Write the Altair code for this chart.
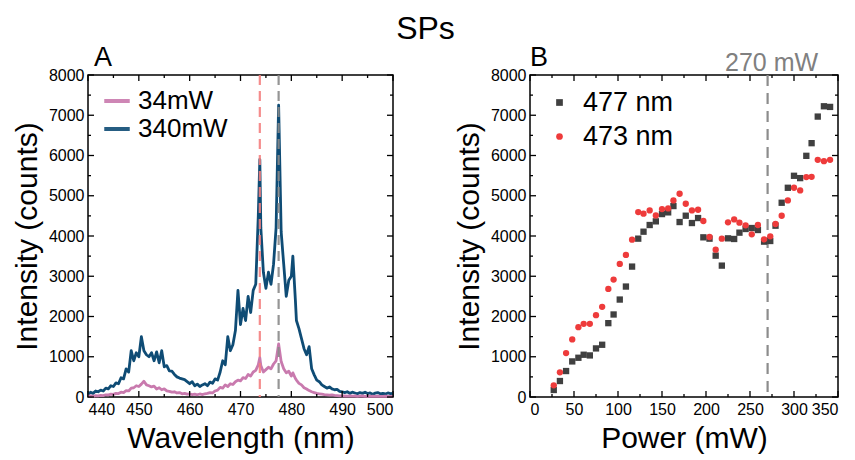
import altair as alt
import pandas as pd

FONT = "Liberation Sans"

# ---------------- Panel A: spectra ----------------
wavelength = [
    440.0, 440.5, 441.0, 441.5, 442.0, 442.5, 443.0, 443.5, 444.0, 444.5,
    445.0, 445.5, 446.0, 446.5, 447.0, 447.5, 448.0, 448.5, 449.0, 449.5,
    450.0, 450.5, 451.0, 451.5, 452.0, 452.5, 453.0, 453.5, 454.0, 454.5,
    455.0, 455.5, 456.0, 456.5, 457.0, 457.5, 458.0, 458.5, 459.0, 459.5,
    460.0, 460.5, 461.0, 461.5, 462.0, 462.5, 463.0, 463.5, 464.0, 464.5,
    465.0, 465.5, 466.0, 466.5, 467.0, 467.5, 468.0, 468.5, 469.0, 469.5,
    470.0, 470.5, 471.0, 471.5, 472.0, 472.5, 473.0, 473.5, 473.8, 474.0,
    474.5, 475.0, 475.5, 476.0, 476.5, 477.0, 477.5, 478.0, 478.5, 479.0,
    479.5, 480.0, 480.3, 480.8, 481.0, 481.5, 482.0, 482.5, 483.0, 483.5,
    484.0, 484.5, 485.0, 485.5, 486.0, 486.5, 487.0, 487.5, 488.0, 488.5,
    489.0, 489.5, 490.0, 490.5, 491.0, 491.5, 492.0, 492.5, 493.0, 493.5,
    494.0, 494.5, 495.0, 495.5, 496.0, 496.5, 497.0, 497.5, 498.0, 498.5,
    499.0, 499.5, 500.0,
]
counts_340mW = [
    60, 120, 90, 150, 130, 170, 150, 220, 200, 280,
    260, 350, 330, 480, 450, 700, 620, 1150, 900, 1100,
    1000, 1500, 1150, 1050, 1000, 1100, 900, 1120, 850, 1150,
    750, 780, 650, 640, 560, 500, 470, 450, 430, 380,
    330, 380, 280, 320, 260, 300, 330, 280, 370, 340,
    450, 420, 620, 900, 800, 1500, 1150, 1300, 1650, 2650,
    1800, 2200, 1900, 2500, 2100, 2650, 2800, 4500, 5900, 4200,
    3100, 2700, 3100, 2800, 3300, 4200, 7250, 4100, 3300, 2500,
    2900, 3000, 3500, 2400, 1900, 1700, 1450, 1200, 1050, 1250,
    700, 550, 420, 380, 300, 260, 220, 250, 200, 180,
    190, 140, 130, 110, 130, 90, 120, 100, 80, 110,
    90, 120, 85, 100, 70, 95, 110, 80, 90, 75,
    100, 85, 90,
]
counts_34mW = [
    20, 30, 15, 35, 30, 40, 35, 55, 50, 70,
    65, 90, 85, 120, 110, 160, 150, 220, 230, 280,
    260, 320, 390, 300, 280, 250, 270, 200, 230, 180,
    200, 150, 140, 120, 130, 100, 110, 80, 90, 70,
    80, 60, 70, 55, 75, 60, 80, 90, 110, 100,
    150, 170, 240, 220, 300, 260, 330, 310, 380, 420,
    400, 480, 460, 560, 520, 620, 660, 800, 980, 780,
    620, 680, 740, 700, 820, 900, 1320, 880, 700, 600,
    640, 520, 600, 460, 420, 340, 300, 230, 200, 160,
    130, 110, 90, 80, 70, 60, 55, 45, 50, 40,
    35, 30, 30, 25, 20, 30, 20, 25, 15, 20,
    25, 15, 20, 18, 22, 15, 20, 18, 15, 20,
    15, 18, 15,
]
series_names = ["34mW", "340mW"]
series_colors = ["#c97aae", "#0f4c75"]
peak_lines_nm = [473.8, 477.5]
peak_line_colors = ["#f47f7f", "#8a8a8a"]

xa_major = [440, 450, 460, 470, 480, 490, 500]
xa_minor = [445, 455, 465, 475, 485, 495]
y_major = [0, 1000, 2000, 3000, 4000, 5000, 6000, 7000, 8000]
y_minor = [500, 1500, 2500, 3500, 4500, 5500, 6500, 7500]

# ---------------- Panel B: power dependence ----------------
power_mW = [27, 34, 41, 48, 55, 61, 68, 75, 82, 89, 95, 102, 109, 116, 123, 129,
            136, 143, 150, 157, 163, 170, 177, 184, 191, 197, 204, 211, 218, 225,
            232, 238, 245, 252, 259, 266, 273, 279, 286, 293, 300, 307, 314, 320,
            327, 334, 341]
intensity_477 = [174, 397, 645, 884, 975, 1050, 1033, 1207, 1298, 1835, 2050, 2421,
                 2744, 3240, 3934, 4107, 4273, 4364, 4545, 4587, 4744, 4347, 4504,
                 4322, 4446, 3967, 3934, 3512, 3264, 3942, 3926, 4083, 4174, 4198,
                 4149, 3860, 3876, 4256, 4826, 5198, 5496, 5438, 5992, 6306, 6967,
                 7223, 7207]
intensity_473 = [289, 612, 1091, 1430, 1736, 1818, 1818, 2033, 2240, 2686, 2917, 3306,
                 3529, 3909, 4595, 4554, 4636, 4512, 4669, 4686, 4884, 5050, 4802,
                 4636, 4653, 4372, 3975, 3661, 3934, 4339, 4413, 4331, 4264, 4041,
                 4273, 3917, 3992, 4298, 4504, 4884, 5198, 5132, 5463, 5471, 5893,
                 5860, 5893]
point_names = ["477 nm", "473 nm"]
point_colors = ["#404040", "#ee3b3b"]
point_shapes = ["square", "circle"]
threshold_mW = [270]
threshold_label = ["270 mW"]

xb_major = [0, 50, 100, 150, 200, 250, 300, 350]
xb_minor = [25, 75, 125, 175, 225, 275, 325]

panel_letters = ["A", "B"]

# ---------------- sizes ----------------
H = 322
WA = 305
WB = 308
MAJ = 6
MIN = 3

n = len(wavelength)
assert len(counts_340mW) == n and len(counts_34mW) == n
spec_df = pd.DataFrame({
    "wl": wavelength * 2,
    "I": counts_34mW + counts_340mW,
    "s": ["34mW"] * n + ["340mW"] * n,
})
blue_df = spec_df[spec_df.s == "340mW"]
pink_df = spec_df[spec_df.s == "34mW"]

m = len(power_mW)
pts_df = pd.DataFrame({
    "p": power_mW * 2,
    "I": intensity_477 + intensity_473,
    "s": ["477 nm"] * m + ["473 nm"] * m,
})

y_scale = alt.Scale(domain=[0, 8000], nice=False)
y_axis = alt.Axis(title="Intensity (counts)", values=y_major, format="d")

xa_scale = alt.Scale(domain=[440, 500], nice=False)
xa_axis = alt.Axis(title="Wavelength (nm)", values=xa_major, format="d")
xb_scale = alt.Scale(domain=[0, 350], nice=False)
xb_axis = alt.Axis(title="Power (mW)", values=xb_major, format="d")


def tick_layers(xvals_major, xvals_minor, xscale, xaxis, W):
    layers = []
    for vals, ln in ((xvals_major, MAJ), (xvals_minor, MIN)):
        d = pd.DataFrame({"v": vals})
        layers.append(alt.Chart(d).mark_rule(color="black", strokeWidth=1.3).encode(
            x=alt.X("v:Q", scale=xscale, axis=xaxis), y=alt.value(H), y2=alt.value(H - ln)))
        layers.append(alt.Chart(d).mark_rule(color="black", strokeWidth=1.3).encode(
            x=alt.X("v:Q", scale=xscale, axis=xaxis), y=alt.value(0), y2=alt.value(ln)))
    for vals, ln in ((y_major, MAJ), (y_minor, MIN)):
        d = pd.DataFrame({"v": vals})
        layers.append(alt.Chart(d).mark_rule(color="black", strokeWidth=1.3).encode(
            y=alt.Y("v:Q", scale=y_scale, axis=y_axis), x=alt.value(0), x2=alt.value(ln)))
        layers.append(alt.Chart(d).mark_rule(color="black", strokeWidth=1.3).encode(
            y=alt.Y("v:Q", scale=y_scale, axis=y_axis), x=alt.value(W), x2=alt.value(W - ln)))
    return layers


def letter(txt, dx):
    d = pd.DataFrame({"t": [txt]})
    return alt.Chart(d).mark_text(fontSize=27, font=FONT, align="left",
                                  baseline="alphabetic", color="black").encode(
        x=alt.value(dx), y=alt.value(-9), text="t:N")


color_a = alt.Color("s:N", scale=alt.Scale(domain=series_names, range=series_colors),
                    legend=alt.Legend(title=None, orient="none", legendX=14, legendY=11,
                                      symbolType="stroke", symbolStrokeWidth=4,
                                      symbolSize=650, labelFontSize=26, labelFont=FONT,
                                      rowPadding=-8, padding=0, labelOffset=6))

blue_line = alt.Chart(blue_df).mark_line(strokeWidth=2.8, strokeJoin="round").encode(
    x=alt.X("wl:Q", scale=xa_scale, axis=xa_axis),
    y=alt.Y("I:Q", scale=y_scale, axis=y_axis),
    color=color_a,
)
pink_line = alt.Chart(pink_df).mark_line(strokeWidth=2.8, strokeJoin="round").encode(
    x=alt.X("wl:Q", scale=xa_scale, axis=xa_axis),
    y=alt.Y("I:Q", scale=y_scale, axis=y_axis),
    color=color_a,
)
peaks_df = pd.DataFrame({"v": peak_lines_nm, "c": peak_line_colors})
peak_rules = alt.Chart(peaks_df).mark_rule(strokeWidth=2.2, strokeDash=[10, 6], opacity=0.9).encode(
    x=alt.X("v:Q", scale=xa_scale, axis=xa_axis),
    color=alt.Color("c:N", scale=None),
)

panel_a = alt.layer(
    blue_line, pink_line, peak_rules, letter(panel_letters[0], 6),
    *tick_layers(xa_major, xa_minor, xa_scale, xa_axis, WA)
).properties(width=WA, height=H)

leg_b = alt.Legend(title=None, orient="none", legendX=16, legendY=14,
                   labelFontSize=27, labelFont=FONT, symbolSize=45,
                   rowPadding=6, padding=0, labelOffset=10)
shape_b = alt.Shape("s:N", scale=alt.Scale(domain=point_names, range=point_shapes), legend=leg_b)
color_b = alt.Color("s:N", scale=alt.Scale(domain=point_names, range=point_colors), legend=leg_b)

thr_df = pd.DataFrame({"v": threshold_mW, "t": threshold_label})
thr_rule = alt.Chart(thr_df).mark_rule(color="#8c8c8c", strokeWidth=2.2, strokeDash=[11, 7]).encode(
    x=alt.X("v:Q", scale=xb_scale, axis=xb_axis),
)
thr_text = alt.Chart(thr_df).mark_text(color="#808080", fontSize=25, font=FONT,
                                       baseline="alphabetic", align="center", dx=4).encode(
    x=alt.X("v:Q", scale=xb_scale, axis=xb_axis),
    y=alt.value(-4),
    text="t:N",
)
points = alt.Chart(pts_df).mark_point(filled=True, size=40, opacity=1).encode(
    x=alt.X("p:Q", scale=xb_scale, axis=xb_axis),
    y=alt.Y("I:Q", scale=y_scale, axis=y_axis),
    color=color_b,
    shape=shape_b,
)

panel_b = alt.layer(
    thr_rule, points, thr_text, letter(panel_letters[1], 0),
    *tick_layers(xb_major, xb_minor, xb_scale, xb_axis, WB)
).properties(width=WB, height=H)

chart = alt.hconcat(panel_a, panel_b, spacing=57).resolve_scale(
    color="independent", shape="independent", x="independent", y="independent",
).resolve_legend(
    color="independent", shape="independent",
).properties(
    title=alt.TitleParams("SPs", anchor="middle", fontSize=32, fontWeight="normal",
                          font=FONT, offset=-3),
    padding={"left": 3, "top": 5, "right": 0, "bottom": 0},
).configure_view(
    stroke="black", strokeWidth=1.5,
).configure_axis(
    grid=False, ticks=False, domain=False,
    labelFont=FONT, titleFont=FONT, labelFontSize=16, titleFontSize=30,
    titleFontWeight="normal", labelColor="black", titleColor="black",
    labelPadding=4, titlePadding=6,
)

chart.save("out.html", embed_options={"renderer": "svg", "actions": False})
